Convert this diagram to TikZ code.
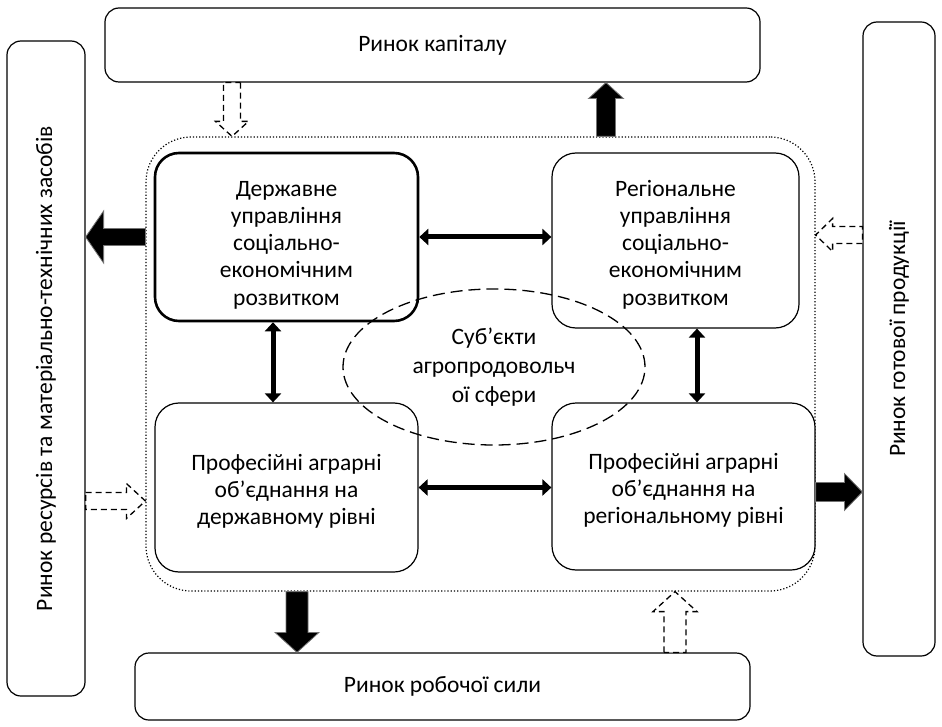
\documentclass[tikz,border=0pt]{standalone}
\usepackage{fontspec}
\setmainfont{Carlito}
\usetikzlibrary{calc,arrows.meta,shapes.geometric}

\newcommand{\blockarrow}[6][]{%
  \path (#2) coordinate (ba) (#3) coordinate (bb) ($(bb)!#6!(ba)$) coordinate (bh);
  \path[#1] ($(ba)!#4!90:(bb)$) -- ($(bh)!#4!90:(bb)$) -- ($(bh)!#5!90:(bb)$) -- (bb)
    -- ($(bh)!#5!-90:(bb)$) -- ($(bh)!#4!-90:(bb)$) -- ($(ba)!#4!-90:(bb)$) -- cycle;}

\begin{document}
\begin{tikzpicture}[x=1pt,y=-1pt,font=\fontsize{23.5}{27.3}\selectfont]
\tikzstyle{market}=[draw,line width=1.2pt,rounded corners=14pt,inner sep=0pt];
\tikzstyle{unit}=[draw,line width=1.2pt,fill=white,rounded corners=24pt,inner sep=0pt];
\tikzstyle{blk}=[fill=black,draw=black!55,line width=0.8pt];
\tikzstyle{hollow}=[draw,fill=white,line width=1.3pt,dash pattern=on 6pt off 4pt];
\tikzstyle{dbl}=[line width=5pt,<->,>={Triangle[width=16pt,length=9pt]}];
\useasboundingbox (0,0) rectangle (942,727);

\node[market,minimum width=655,minimum height=74] (cap) at (432.5,45) {Ринок капіталу};
\node[market,minimum width=655,minimum height=78,rotate=90] (res) at (46,368.5) {Ринок ресурсів та матеріально-технічних засобів};
\node[market,minimum width=634,minimum height=72,rotate=90] (prod) at (899,339) {Ринок готової продукції};
\node[market,minimum width=615,minimum height=67] (lab) at (442.5,686.5) {Ринок робочої сили};

\node[draw,dotted,line width=1.2pt,rounded corners=45pt,minimum width=669,minimum height=454] (zone) at (480.5,364) {};

\node[unit,line width=2.6pt,minimum width=263,minimum height=168] (gov) at (286.5,237) {};
\node[unit,minimum width=247,minimum height=175] (reg) at (675.5,240.5) {};
\node[unit,minimum width=263,minimum height=169] (profg) at (286.5,487.5) {};
\node[unit,minimum width=263,minimum height=167] (profr) at (683.5,486.5) {};
\node[align=center] (govtext) at ($(gov)+(0,8)$) {Державне\\управління\\соціально-\\економічним\\розвитком};
\node[align=center] (regtext) at ($(reg)+(0,4)$) {Регіональне\\управління\\соціально-\\економічним\\розвитком};
\node[align=center] (profgtext) at ($(profg)+(0,4)$) {Професійні аграрні\\об’єднання на\\державному рівні};
\node[align=center] (profrtext) at ($(profr)+(0,4)$) {Професійні аграрні\\об’єднання на\\регіональному рівні};

\node[draw,ellipse,line width=1.3pt,dash pattern=on 12pt off 6pt,align=center,minimum width=302,minimum height=156] (subj) at (494,367) {Суб’єкти\\[2pt]агропродовольч\\[2pt]ої сфери};

\draw[dbl] (gov.east) -- (gov.east -| reg.west);
\draw[dbl] (profg.east) -- (profg.east -| profr.west);
\draw[dbl] (gov.south -| 273,0) -- (profg.north -| 273,0);
\draw[dbl] (reg.south -| 697,0) -- (profr.north -| 697,0);

\blockarrow[hollow]{cap.south -| 232,0}{zone.north -| 232,0}{8.5pt}{16.5pt}{15pt}
\blockarrow[blk]{zone.north -| 606,0}{cap.south -| 606,0}{9.5pt}{17.5pt}{16pt}
\blockarrow[blk]{zone.west |- gov.west}{res.south |- gov.west}{8.5pt}{26pt}{18pt}
\blockarrow[hollow]{res.south |- 0,501}{zone.west |- 0,501}{8.5pt}{17.5pt}{19pt}
\blockarrow[hollow]{prod.north |- 0,235}{zone.east |- 0,235}{8.5pt}{16.5pt}{17pt}
\blockarrow[blk]{profr.east |- 0,492}{prod.north |- 0,492}{9.5pt}{18.5pt}{18pt}
\blockarrow[blk]{zone.south -| 297,0}{lab.north -| 297,0}{11pt}{22pt}{20pt}
\blockarrow[hollow]{lab.north -| 675,0}{zone.south -| 675,0}{11pt}{22pt}{20pt}
\end{tikzpicture}
\end{document}
